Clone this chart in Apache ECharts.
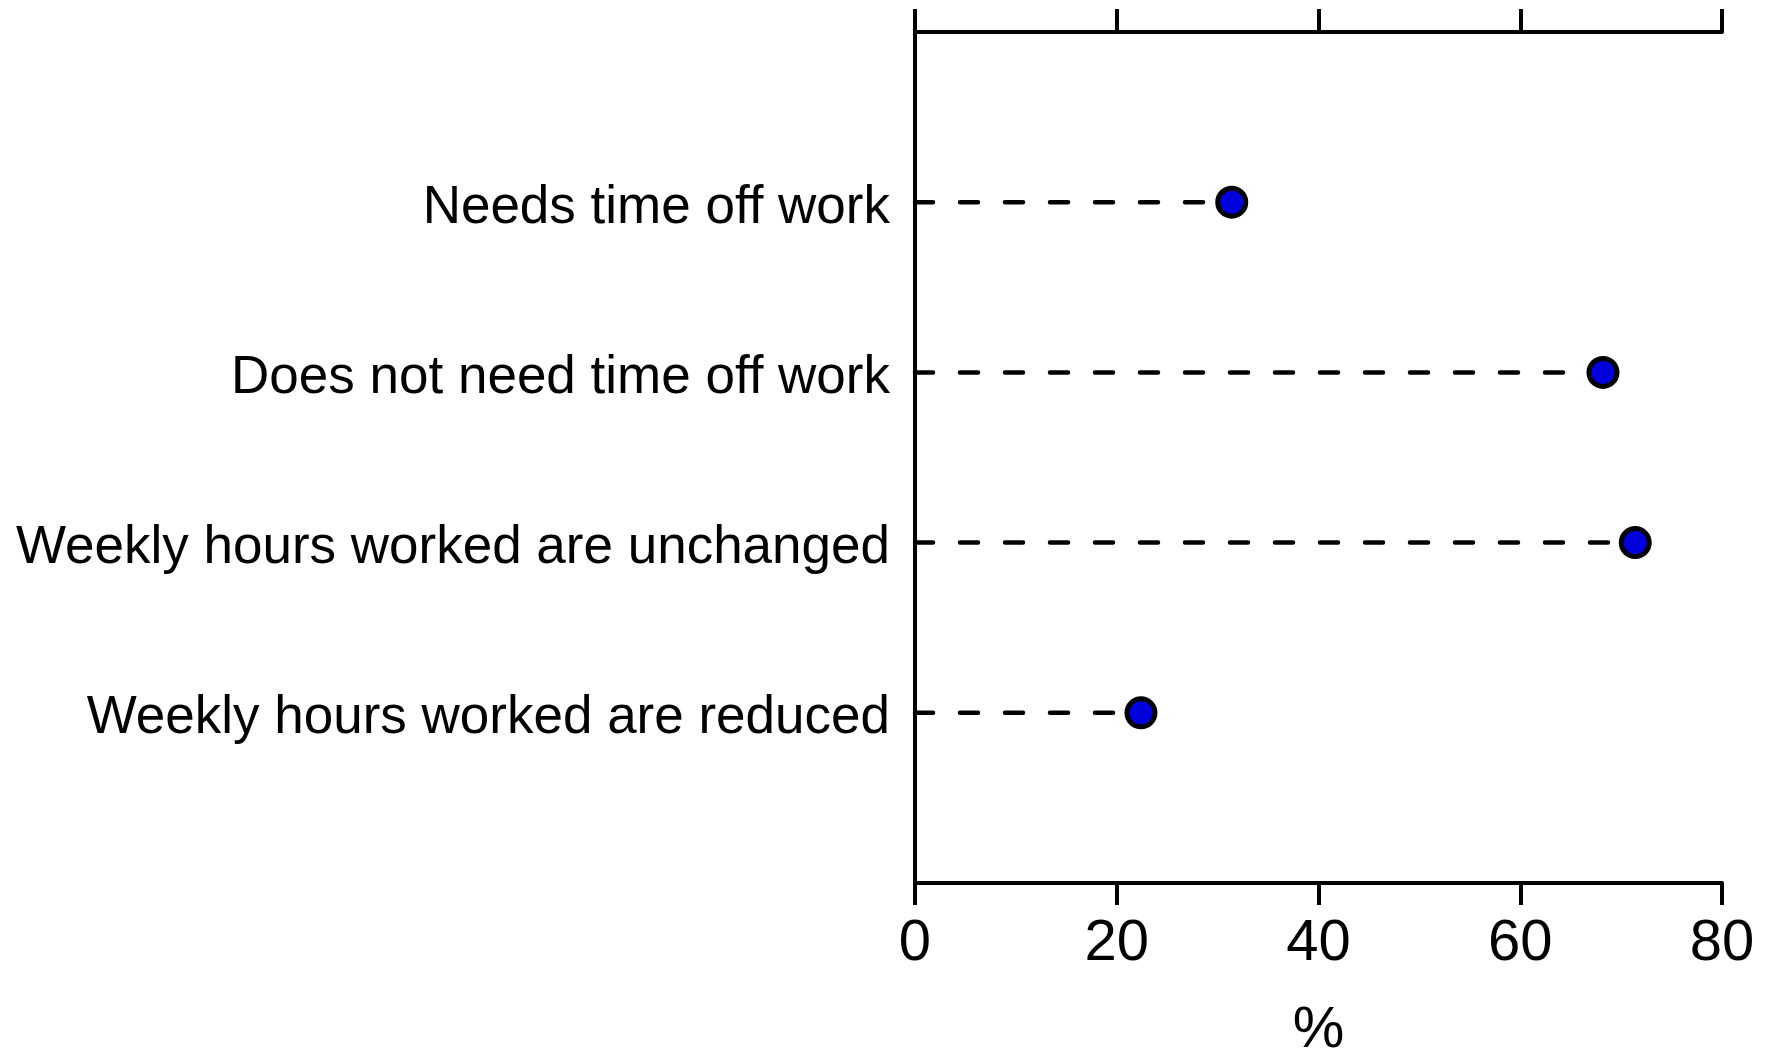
<!DOCTYPE html>
<html>
<head>
<meta charset="utf-8">
<title>Time off work</title>
<script src="https://cdn.jsdelivr.net/npm/echarts@6/dist/echarts.min.js"></script>
<style>
  html, body { margin: 0; padding: 0; background: #fff; }
  #chart { width: 1765px; height: 1053px; }
</style>
</head>
<body>
<div id="chart"></div>
<script>
// categories, bottom to top (blank slots at both ends give the empty space)
var categories = ['', 'Weekly hours worked are reduced', 'Weekly hours worked are unchanged',
                  'Does not need time off work', 'Needs time off work', ''];
var values = [22.4, 71.4, 68.2, 31.4]; // per category, index 1..4
var xTicks = [0, 20, 40, 60, 80];

var FONT = '"Liberation Sans", Arial, sans-serif';

var chart = echarts.init(document.getElementById('chart'));

// dashed leader from 0 to each point
var dashSeries = values.map(function (v, i) {
    return {
        type: 'line',
        data: [[0, categories[i + 1]], [v, categories[i + 1]]],
        symbol: 'none',
        silent: true,
        lineStyle: { color: '#000', width: 4.5, type: [18, 27], cap: 'round' },
        z: 2
    };
});

chart.setOption({
    animation: false,
    grid: { left: 915, right: 43, top: 32, bottom: 170, containLabel: false, outerBoundsMode: 'none' },
    xAxis: [
        {
            type: 'value', min: xTicks[0], max: xTicks[xTicks.length - 1], interval: 20,
            position: 'bottom',
            name: '%', nameLocation: 'middle', nameGap: 119,
            nameTextStyle: { fontFamily: FONT, fontSize: 58, color: '#000' },
            axisLine: { show: true, lineStyle: { color: '#000', width: 4 } },
            axisTick: { show: true, length: 22, lineStyle: { color: '#000', width: 4 } },
            axisLabel: { fontFamily: FONT, fontSize: 58, color: '#000', margin: 32 },
            splitLine: { show: false }
        },
        {
            type: 'value', min: xTicks[0], max: xTicks[xTicks.length - 1], interval: 20,
            position: 'top',
            axisLine: { show: true, lineStyle: { color: '#000', width: 4 } },
            axisTick: { show: true, length: 23, lineStyle: { color: '#000', width: 4 } },
            axisLabel: { show: false },
            splitLine: { show: false }
        }
    ],
    yAxis: [
        {
            type: 'category', data: categories, boundaryGap: false,
            position: 'left',
            axisLine: { show: true, lineStyle: { color: '#000', width: 4 } },
            axisTick: { show: false },
            axisLabel: { fontFamily: FONT, fontSize: 53, color: '#000', margin: 25, interval: 0,
                         verticalAlign: 'top', lineHeight: 12 },
            splitLine: { show: false }
        },
        {
            type: 'category', data: categories, boundaryGap: false,
            position: 'right',
            axisLine: { show: true, lineStyle: { color: '#000', width: 4 } },
            axisTick: { show: false },
            axisLabel: { show: false },
            splitLine: { show: false }
        }
    ],
    series: dashSeries.concat([{
        type: 'scatter',
        data: values.map(function (v, i) { return [v, categories[i + 1]]; }),
        symbol: 'circle',
        symbolSize: 28,
        itemStyle: { color: '#0000dd', borderColor: '#000', borderWidth: 5, opacity: 1 },
        z: 5
    }])
});
</script>
</body>
</html>
